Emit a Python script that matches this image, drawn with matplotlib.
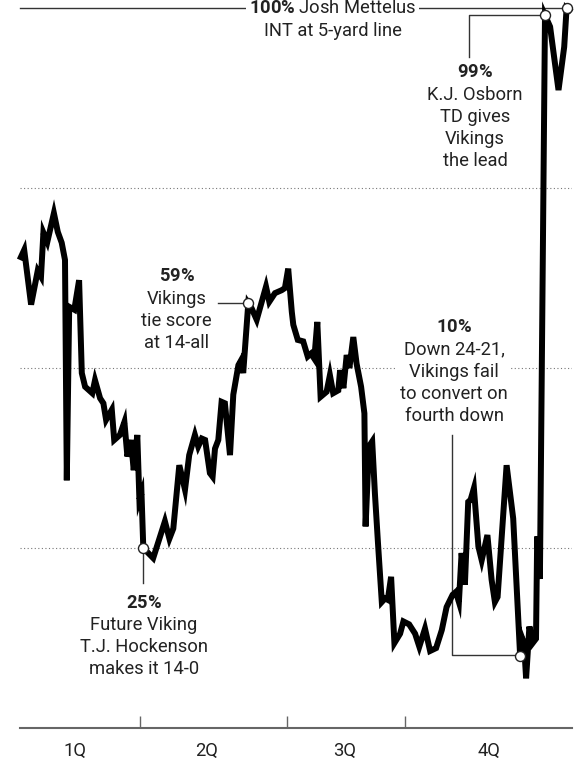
import matplotlib.pyplot as plt

plt.rcParams['font.family'] = ['Roboto', 'DejaVu Sans']
plt.rcParams['mathtext.fontset'] = 'custom'
plt.rcParams['mathtext.rm'] = 'Roboto'
plt.rcParams['mathtext.bf'] = 'Roboto:bold'

# Vikings win probability, play by play
play = [0.3, 1.4, 3.7, 5.9, 7.0, 7.8, 9.1, 11.3, 12.6, 13.9,
        15.0, 15.6, 16.4, 18.1, 19.7, 20.6, 21.7, 24.1, 25.0, 26.7,
        27.8, 28.7, 30.6, 31.4, 33.3, 34.8, 35.8, 37.0, 37.9, 39.1,
        39.8, 40.5, 41.1, 44.4, 48.3, 49.8, 51.1, 53.1, 55.0, 56.4,
        58.3, 59.4, 60.6, 61.7, 63.3, 64.2, 65.0, 66.1, 67.2, 68.3,
        70.0, 71.1, 72.8, 73.6, 74.4, 76.1, 77.2, 78.9, 82.0, 83.1,
        85.0, 87.2, 88.3, 89.4, 90.6, 91.1, 92.6, 94.4, 95.9, 97.0,
        98.1, 99.1, 100.2, 102.2, 103.3, 104.4, 106.1, 106.7, 107.8, 108.9,
        109.8, 111.1, 112.2, 113.7, 114.8, 115.2, 116.3, 117.4, 118.3, 119.4,
        120.6, 121.7, 122.6, 123.7, 124.8, 126.7, 127.8, 129.7, 131.7, 133.1,
        135.0, 136.7, 138.7, 140.6, 142.2, 144.2, 145.3, 146.3, 147.2, 148.3,
        149.4, 150.2, 151.3, 152.8, 153.9, 155.8, 157.2, 158.3, 159.2, 162.2,
        164.4, 166.7, 167.2, 168.0, 168.7, 169.8, 170.9, 172.0, 172.4, 173.3,
        175.0, 176.7, 179.5, 181.4, 182.2, 183.1]
win_pct = [65.4, 66.4, 58.8, 63.5, 62.7, 68.8, 67.5, 71.5, 68.9, 67.4,
           65.0, 34.4, 58.5, 58.1, 62.2, 49.3, 47.4, 46.5, 48.3, 45.8,
           45.1, 42.8, 44.2, 40.0, 40.7, 42.5, 37.7, 40.0, 35.8, 40.7,
           31.7, 32.6, 25.0, 23.6, 28.7, 26.3, 27.7, 36.5, 33.1, 37.9,
           40.7, 39.1, 40.2, 40.0, 35.4, 34.9, 38.8, 40.0, 45.3, 45.1,
           37.9, 46.3, 50.4, 51.0, 49.3, 59.0, 58.3, 56.7, 61.3, 59.2,
           60.4, 60.8, 61.1, 63.8, 57.8, 56.0, 53.9, 53.7, 51.6, 52.0,
           51.3, 56.4, 46.0, 46.7, 49.0, 46.5, 46.9, 49.7, 47.2, 51.8,
           50.0, 54.3, 50.6, 47.4, 43.7, 28.0, 39.1, 39.8, 32.6, 25.2,
           17.5, 18.0, 17.8, 21.0, 11.8, 13.1, 14.8, 14.4, 13.1, 11.3,
           13.8, 10.7, 11.1, 13.6, 16.8, 18.5, 18.9, 17.5, 24.3, 19.9,
           31.4, 31.7, 33.3, 25.2, 23.3, 26.8, 20.6, 17.5, 18.2, 36.5,
           29.1, 10.1, 12.7, 11.8, 6.9, 14.1, 11.8, 12.4, 26.6, 20.7,
           99.0, 97.4, 88.6, 94.6, 100.0, 99.7]

quarter_ends = [40, 89, 128.3]
quarter_label_pos = [18.3, 62.3, 108.3, 156.3]
quarter_labels = ['1Q', '2Q', '3Q', '4Q']
grid_levels = [25, 50, 75]

key_play = [41.1, 76.1, 166.7, 175.0, 182.2]
key_pct = [25, 59, 10, 99, 100]


def main():
    fig = plt.figure(figsize=(5.86, 7.64), dpi=100)
    ax = fig.add_axes([20 / 586, 36 / 764, 552 / 586, 720 / 764])
    ax.set_xlim(0, 184)
    ax.set_ylim(0, 100)

    for lvl in grid_levels:
        ax.axhline(lvl, color='#777777', lw=0.8, ls=(0, (1, 2.2)), zorder=1)

    ax.plot(play, win_pct, color='black', lw=4.3, solid_joinstyle='miter',
            zorder=3, clip_on=False)

    # connector lines for the notes
    conn = dict(color='#333333', lw=1, zorder=2.5, clip_on=False)
    ax.plot([0, 182.2], [100, 100], **conn)
    ax.plot([149.6, 149.6, 175.0], [93.2, 99, 99], **conn)
    ax.plot([66, 76.1], [59, 59], **conn)
    ax.plot([41.1, 41.1], [25, 20.1], **conn)
    ax.plot([143.9, 143.9, 166.7], [40.7, 10.1, 10.1], **conn)

    ax.scatter(key_play, key_pct, s=52, facecolor='white', edgecolor='#222222',
               lw=1, zorder=5, clip_on=False)

    txt = dict(ha='center', va='center', fontsize=13.2, color='#222222',
               linespacing=1.3, zorder=2.7,
               bbox=dict(fc='white', ec='none', pad=2))
    ax.text(104.3, 98.4, '$\\mathbf{100\\%}$ Josh Mettelus\nINT at 5-yard line', **txt)
    ax.text(151.7, 84.9, '$\\mathbf{99\\%}$\nK.J. Osborn\nTD gives\nVikings\nthe lead', **txt)
    ax.text(52.2, 58.1, '$\\mathbf{59\\%}$\nVikings\ntie score\nat 14-all', **txt)
    ax.text(41.2, 12.8, '$\\mathbf{25\\%}$\nFuture Viking\nT.J. Hockenson\nmakes it 14-0', **txt)
    ax.text(144.7, 49.5, '$\\mathbf{10\\%}$\nDown 24-21,\nVikings fail\nto convert on\nfourth down', **txt)

    for side in ['top', 'right', 'left']:
        ax.spines[side].set_visible(False)
    ax.spines['bottom'].set_color('#666666')
    ax.spines['bottom'].set_linewidth(1.5)
    ax.set_yticks([])
    ax.set_xticks(quarter_ends)
    ax.set_xticklabels([])
    ax.tick_params(axis='x', which='major', direction='in', length=9,
                   width=1, color='#666666')
    ax.set_xticks(quarter_label_pos, quarter_labels, minor=True)
    ax.tick_params(axis='x', which='minor', length=0, pad=10,
                   labelsize=13.2, labelcolor='#222222')

    fig.savefig('out.png', dpi=100)


if __name__ == '__main__':
    main()
